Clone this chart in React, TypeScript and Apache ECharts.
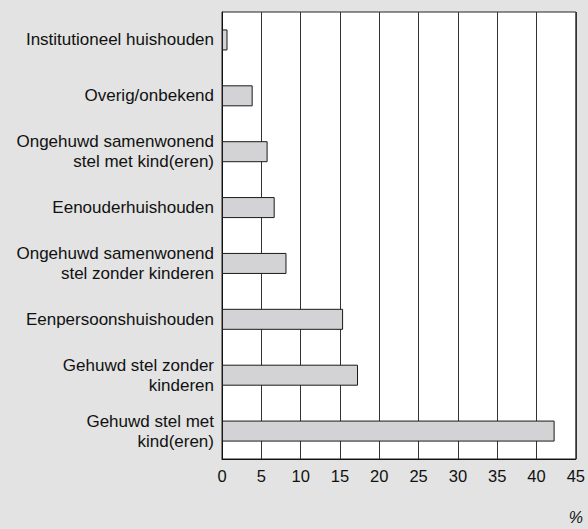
import React, { useEffect, useRef } from "react";
import * as echarts from "echarts";

const categories = [
  "Institutioneel huishouden",
  "Overig/onbekend",
  "Ongehuwd samenwonend\nstel met kind(eren)",
  "Eenouderhuishouden",
  "Ongehuwd samenwonend\nstel zonder kinderen",
  "Eenpersoonshuishouden",
  "Gehuwd stel zonder\nkinderen",
  "Gehuwd stel met\nkind(eren)",
];
const values = [0.7, 3.9, 5.8, 6.7, 8.2, 15.4, 17.3, 42.3];
const xMin = 0;
const xMax = 45;
const xStep = 5;

export default function App() {
  const ref = useRef<HTMLDivElement>(null);
  useEffect(() => {
    document.body.style.margin = "0";
    document.body.style.background = "#e2e3e2";
    const chart = echarts.init(ref.current!, null, { renderer: "svg" });
    const font = "'Liberation Sans', Arial, Helvetica, sans-serif";
    chart.setOption({
      animation: false,
      backgroundColor: "#e2e3e2",
      grid: {
        left: 222,
        right: 9,
        top: 12,
        bottom: 70,
        show: true,
        backgroundColor: "#ffffff",
        borderColor: "#222",
        borderWidth: 1,
      },
      xAxis: {
        type: "value",
        min: xMin,
        max: xMax,
        interval: xStep,
        axisLine: { show: true, lineStyle: { color: "#111", width: 1 } },
        axisTick: { show: false },
        splitLine: { show: true, lineStyle: { color: "#333", width: 1 } },
        axisLabel: {
          color: "#111",
          fontSize: 16.5,
          fontFamily: font,
          margin: 8,
        },
      },
      yAxis: {
        type: "category",
        data: categories,
        inverse: true,
        axisLine: { show: true, lineStyle: { color: "#111", width: 1 } },
        axisTick: { show: false },
        splitLine: { show: false },
        axisLabel: {
          color: "#111",
          fontSize: 17,
          fontFamily: font,
          margin: 8,
          lineHeight: 20,
          align: "right",
        },
      },
      series: [
        {
          type: "bar",
          data: values,
          barWidth: 21,
          itemStyle: { color: "#d3d3d5", borderColor: "#1a1a1a", borderWidth: 1 },
        },
      ],
      graphic: [
        {
          type: "text",
          right: 5,
          top: 509,
          style: {
            text: "%",
            fontSize: 16,
            fontStyle: "italic",
            fontFamily: font,
            fill: "#111",
          },
        },
      ],
    });
    return () => chart.dispose();
  }, []);
  return <div ref={ref} style={{ width: 588, height: 529 }} />;
}
